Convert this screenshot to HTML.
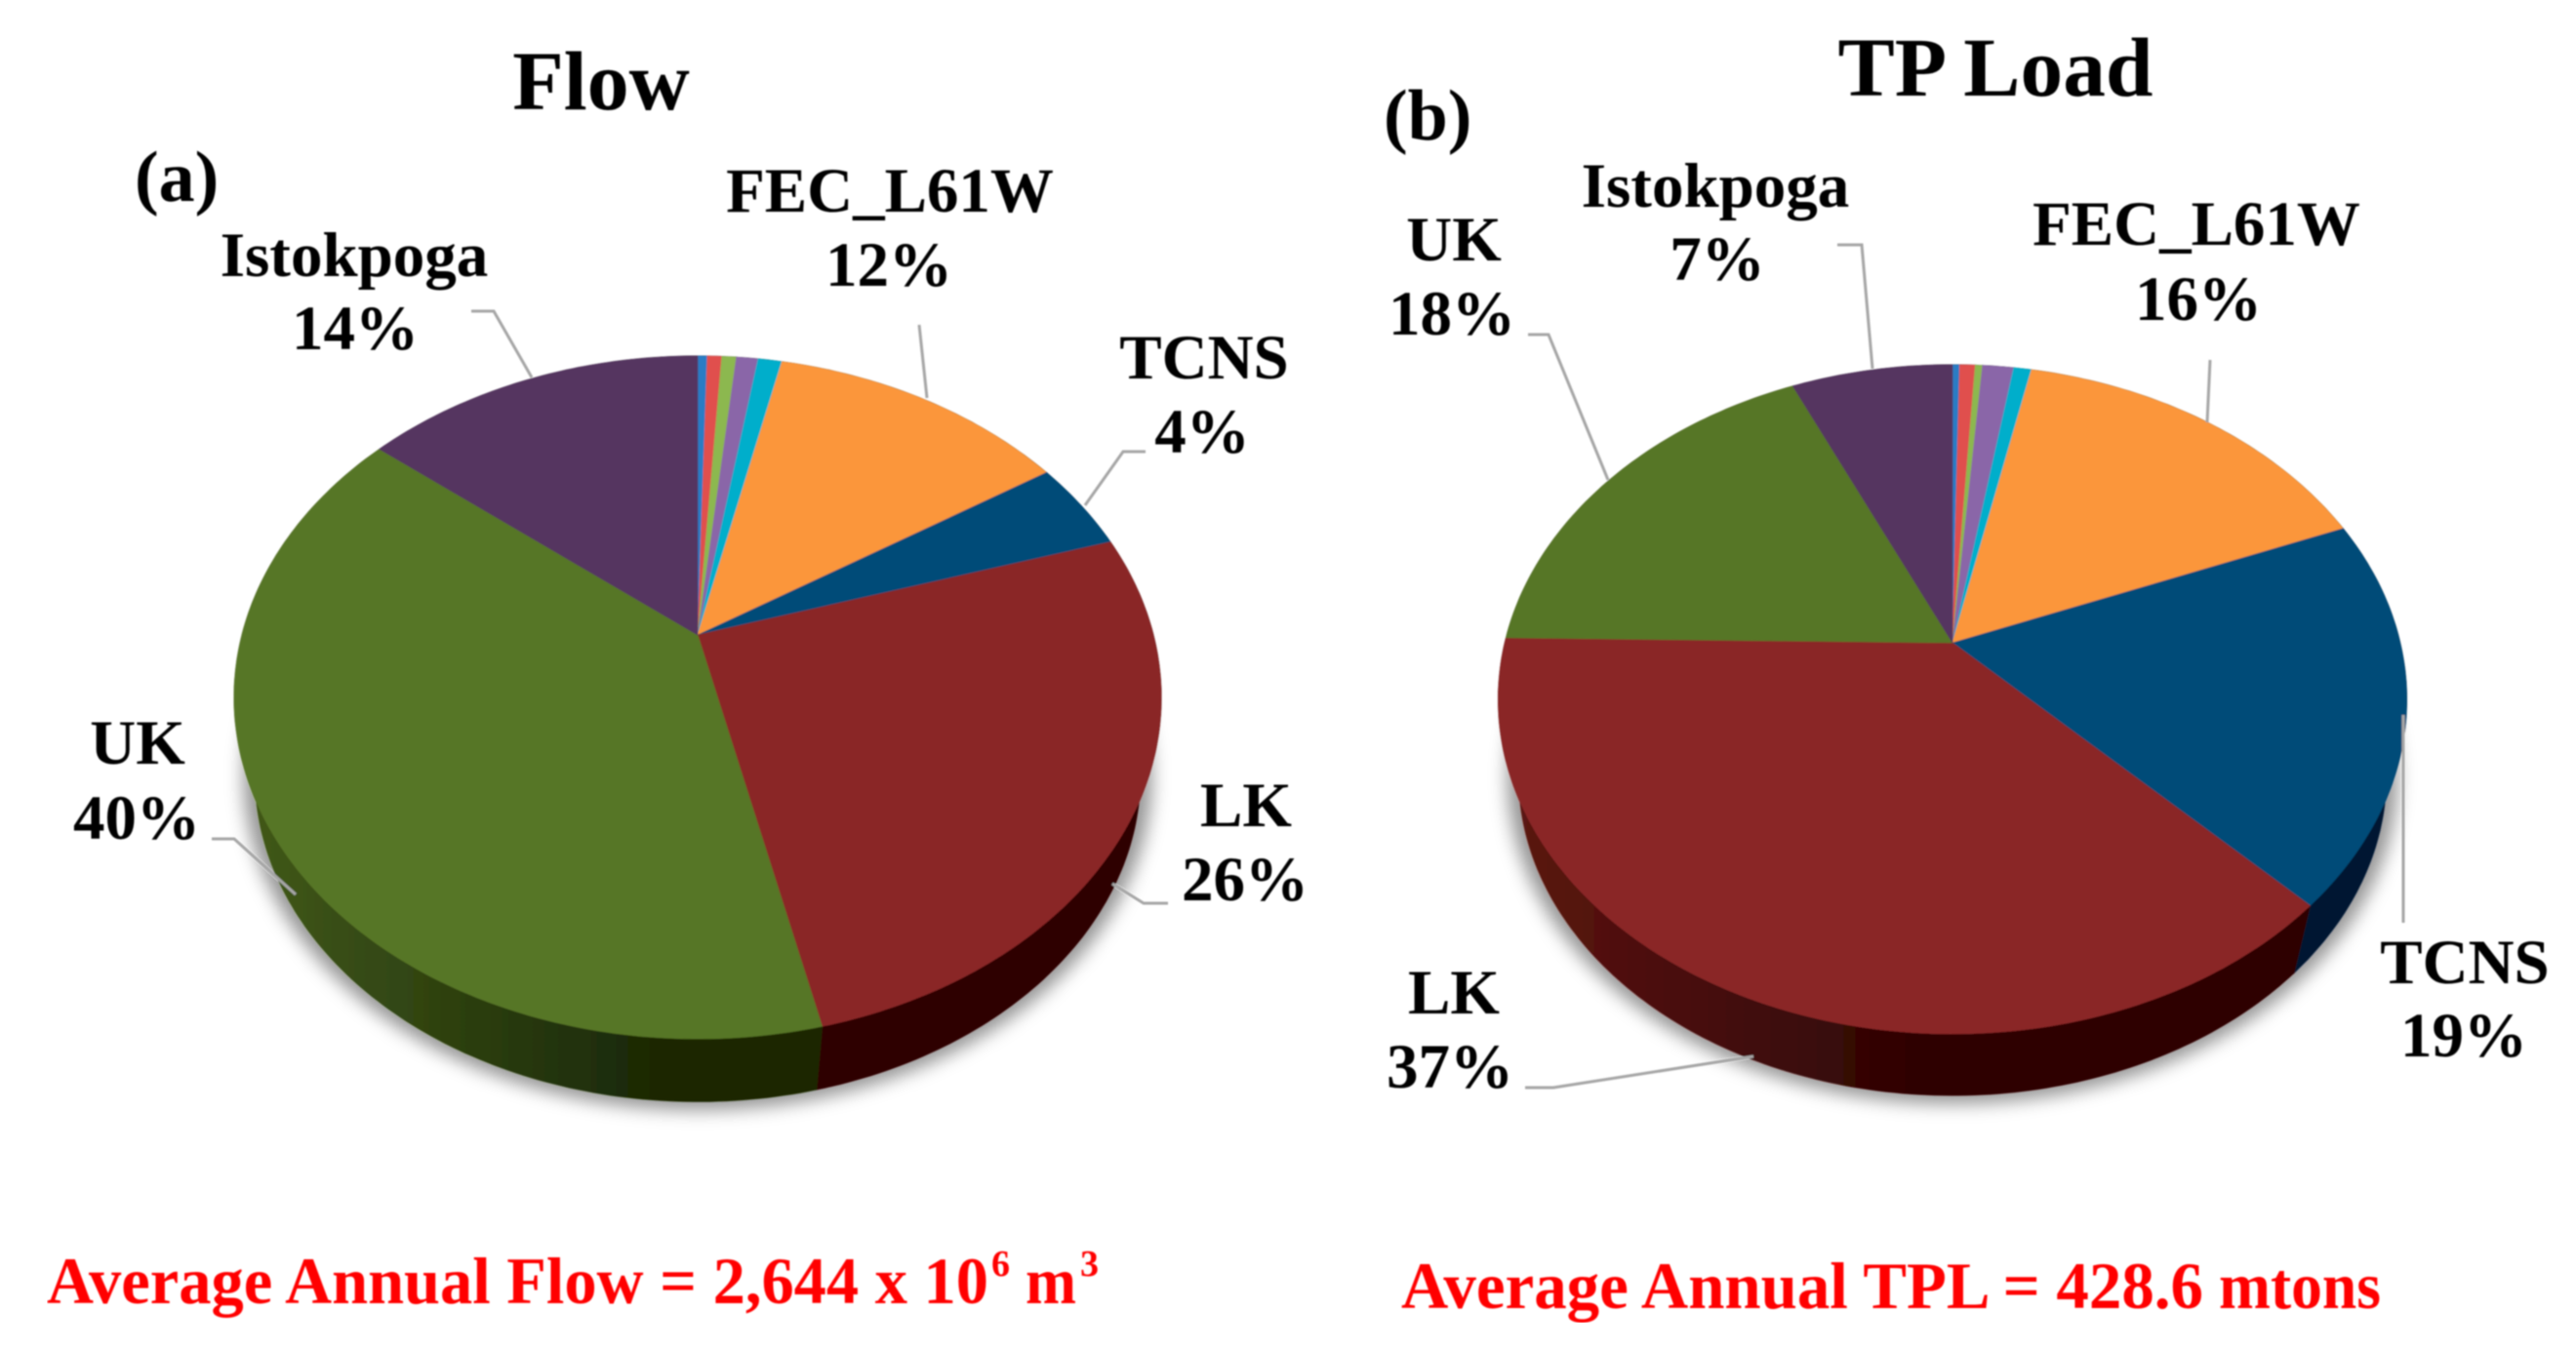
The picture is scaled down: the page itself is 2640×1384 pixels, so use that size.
<!DOCTYPE html>
<html lang="en">
<head>
<meta charset="utf-8">
<title>Flow and TP Load pie charts</title>
<style>
html,body{margin:0;padding:0;background:#fff;}
svg{display:block;}
text{font-family:"Liberation Serif",serif;font-weight:bold;fill:#000;}
.lab{font-size:65px;text-anchor:middle;}
.title{font-size:86px;text-anchor:middle;}
.tag{font-size:74px;}
.red{fill:#ff0000;font-size:68px;}
.sup{fill:#ff0000;font-size:38px;}
.leader{fill:none;stroke:#a6a6a6;stroke-width:3;}
</style>
</head>
<body>
<svg id="chart" xmlns="http://www.w3.org/2000/svg" width="2640" height="1384" viewBox="0 0 2640 1384">
  <defs id="defs">
    <filter id="soft" x="-10%" y="-10%" width="120%" height="130%"><feGaussianBlur stdDeviation="9"/></filter>
    <filter id="edge" x="0" y="0" width="100%" height="100%"><feGaussianBlur stdDeviation="0.9"/></filter>
  </defs>
  <rect width="2640" height="1384" fill="#ffffff"/>
  <g id="all" filter="url(#edge)">
    <g id="pie-a-host"></g>
    <g id="pie-b-host"></g>

    <text class="title" x="616" y="112">Flow</text>
    <text class="tag" x="138" y="206">(a)</text>
    <text class="lab" x="912" y="217">FEC_L61W</text>
    <text class="lab" x="911" y="293">12%</text>
    <text class="lab" x="363" y="283">Istokpoga</text>
    <text class="lab" x="364" y="358">14%</text>
    <text class="lab" x="1234" y="388">TCNS</text>
    <text class="lab" x="1232" y="464">4%</text>
    <text class="lab" x="141" y="783">UK</text>
    <text class="lab" x="140" y="860">40%</text>
    <text class="lab" x="1277" y="847">LK</text>
    <text class="lab" x="1276" y="923">26%</text>

    <text class="title" x="2045" y="98" textLength="323" lengthAdjust="spacingAndGlyphs">TP Load</text>
    <text class="tag" x="1418" y="143">(b)</text>
    <text class="lab" x="1758" y="212">Istokpoga</text>
    <text class="lab" x="1760" y="287">7%</text>
    <text class="lab" x="1490" y="267">UK</text>
    <text class="lab" x="1488" y="343">18%</text>
    <text class="lab" x="2251" y="251">FEC_L61W</text>
    <text class="lab" x="2253" y="328">16%</text>
    <text class="lab" x="1490" y="1039">LK</text>
    <text class="lab" x="1486" y="1115">37%</text>
    <text class="lab" x="2526" y="1008">TCNS</text>
    <text class="lab" x="2525" y="1083">19%</text>

    <text class="red" x="48" y="1336" textLength="965" lengthAdjust="spacingAndGlyphs">Average Annual Flow = 2,644 x 10</text>
    <text class="sup" x="1016" y="1308">6</text>
    <text class="red" x="1051" y="1336" textLength="52" lengthAdjust="spacingAndGlyphs">m</text>
    <text class="sup" x="1107" y="1308">3</text>
    <text class="red" x="1436" y="1341" textLength="822" lengthAdjust="spacingAndGlyphs">Average Annual TPL = 428.6</text>
    <text class="red" x="2274" y="1341" textLength="166" lengthAdjust="spacingAndGlyphs">mtons</text>
  </g>
</svg>
<script>
// Chart data, in percent, clockwise from 12 o'clock
const categories = ['other-1', 'other-2', 'other-3', 'other-4', 'other-5', 'fec-l61w', 'tcns', 'lk', 'uk', 'istokpoga'];
const flowValues = [0.4, 0.6, 0.6, 0.9, 1.0, 12.4, 4.3, 26.2, 39.4, 14.2];
const tpLoadValues = [0.3, 0.65, 0.3, 1.3, 0.75, 15.6, 18.7, 37.65, 18.0, 6.75];

// Series styles
const faceColors = ['#2a7cc4', '#e0504e', '#8cb850', '#8a66a8', '#00aecb', '#fb963b', '#004b78', '#8a2626', '#577626', '#553560'];
const wallLightColors = ['#174466', '#6e2a29', '#4a6229', '#483658', '#005c6c', '#7f4c1e', '#0b2c4a', '#5c1512', '#41591a', '#3a2342'];
const wallDarkColors = ['#0b2033', '#381514', '#253114', '#241b2c', '#002e36', '#40260f', '#001830', '#2f0404', '#1a2805', '#1d1121'];

const SVG_NS = 'http://www.w3.org/2000/svg';
const defs = document.getElementById('defs');

function polar(pie, pct) {
  const t = pct / 100 * 2 * Math.PI;
  const u = Math.sin(t), v = -Math.cos(t);
  const w = 1 - pie.k * v;
  return [pie.x + pie.a * u / w, pie.y + pie.b * v / w];
}
// Arc on the pie, optionally scaled about the rim ellipse centre and shifted down
function arcPoints(pie, from, to, scale, dy) {
  const pts = [];
  const n = Math.max(2, Math.ceil((to - from) * 4));
  for (let i = 0; i <= n; i++) {
    const p = polar(pie, from + (to - from) * i / n);
    const px = pie.x + (p[0] - pie.x) * scale;
    const py = pie.yc + (p[1] - pie.yc) * scale + dy;
    pts.push(px.toFixed(1) + ',' + py.toFixed(1));
  }
  return pts;
}

function drawPie(host, values, pie, prefix, leaders) {
  const total = values.reduce(function (s, v) { return s + v; }, 0);

  const shadow = document.createElementNS(SVG_NS, 'polygon');
  
  
  shadow.setAttribute('points', arcPoints(pie, 0, 100, 0.98, pie.drop).join(' '));
  shadow.setAttribute('fill', '#000');
  shadow.setAttribute('fill-opacity', '0.42');
  shadow.setAttribute('filter', 'url(#soft)');
  host.appendChild(shadow);

  let cum = 0;
  values.forEach(function (val, i) {
    const from = cum / total * 100;
    cum += val;
    const to = cum / total * 100;
    const gid = prefix + '-wall-' + i;
    const grad = document.createElementNS(SVG_NS, 'linearGradient');
    grad.setAttribute('id', gid);
    grad.setAttribute('gradientUnits', 'userSpaceOnUse');
    grad.setAttribute('x1', pie.x - pie.a);
    grad.setAttribute('x2', pie.x + pie.a);
    grad.setAttribute('y1', 0);
    grad.setAttribute('y2', 0);
    [[0, wallLightColors[i]], [0.45, wallDarkColors[i]], [1, wallDarkColors[i]]].forEach(function (s) {
      const stop = document.createElementNS(SVG_NS, 'stop');
      stop.setAttribute('offset', s[0]);
      stop.setAttribute('stop-color', s[1]);
      grad.appendChild(stop);
    });
    defs.appendChild(grad);
    const wall = document.createElementNS(SVG_NS, 'polygon');
    
    
    wall.setAttribute('points', arcPoints(pie, from, to, 1, 0).concat(arcPoints(pie, from, to, pie.shrink, pie.drop).reverse()).join(' '));
    wall.setAttribute('fill', 'url(#' + gid + ')');
    wall.setAttribute('stroke', 'url(#' + gid + ')');
    wall.setAttribute('stroke-width', '1');
    host.appendChild(wall);
  });

  cum = 0;
  values.forEach(function (val, i) {
    const from = cum / total * 100;
    cum += val;
    const to = cum / total * 100;
    const slice = document.createElementNS(SVG_NS, 'polygon');
    
    
    slice.setAttribute('points', [pie.x + ',' + pie.y].concat(arcPoints(pie, from, to, 1, 0)).join(' '));
    slice.setAttribute('fill', faceColors[i]);
    slice.setAttribute('stroke', faceColors[i]);
    slice.setAttribute('stroke-width', '0.6');
    host.appendChild(slice);
  });

  leaders.forEach(function (l) {
    const line = document.createElementNS(SVG_NS, 'polyline');
    
    
    line.setAttribute('class', 'leader');
    line.setAttribute('points', l.points);
    host.appendChild(line);
  });
}

drawPie(document.getElementById('pie-a-host'), flowValues,
  { x: 715, y: 651, yc: 715, a: 467, b: 338.3, k: 0.1829, shrink: 0.955, drop: 80 }, 'flow',
  [
    { name: 'istokpoga', points: '483,319 506,319 545,387' },
    { name: 'fec-l61w', points: '942,333 950,408' },
    { name: 'tcns', points: '1174,463 1151,463 1112,518' },
    { name: 'uk', points: '217,860 240,860 303,917' },
    { name: 'lk', points: '1197,926 1172,926 1140,906' }
  ]);
drawPie(document.getElementById('pie-b-host'), tpLoadValues,
  { x: 2001, y: 659, yc: 717, a: 458.8, b: 333.2, k: 0.169, shrink: 0.955, drop: 78.4 }, 'tpl',
  [
    { name: 'uk', points: '1566,343 1587,343 1648,492' },
    { name: 'istokpoga', points: '1883,251 1908,251 1919,378' },
    { name: 'fec-l61w', points: '2265,369 2262,433' },
    { name: 'tcns', points: '2463,733 2463,946' },
    { name: 'lk', points: '1563,1115 1592,1115 1797,1083' }
  ]);
</script>
</body>
</html>
